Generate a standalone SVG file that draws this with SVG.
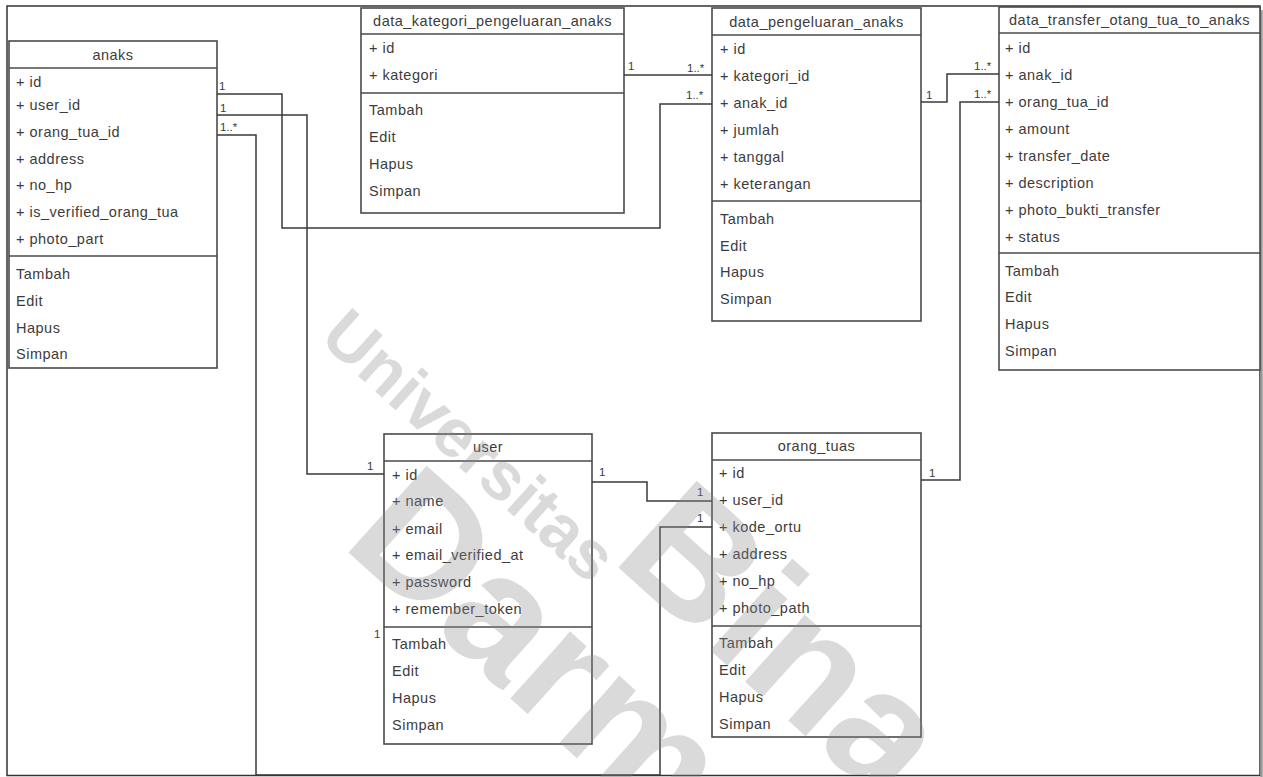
<svg xmlns="http://www.w3.org/2000/svg" width="1263" height="777" viewBox="0 0 1263 777">
<style>
.box{fill:#fff;stroke:#4a4a4a;stroke-width:1.6}
.sep{stroke:#4a4a4a;stroke-width:1.6}
.t{font-family:"Liberation Sans",Arial,sans-serif;font-size:14.5px;letter-spacing:0.5px;fill:#3c3c3c}
.h{text-anchor:middle}
.c{fill:none;stroke:#3a3a3a;stroke-width:1.5}
.lb{font-family:"Liberation Sans",Arial,sans-serif;font-size:11.5px;fill:#3c3c3c}
.wm{font-family:"Liberation Sans",Arial,sans-serif;font-weight:bold;fill:#8c8c8c;fill-opacity:0.32}
</style>
<rect x="0" y="0" width="1263" height="777" fill="#fff"/>
<rect x="7" y="6" width="1253" height="769.5" fill="none" stroke="#333" stroke-width="1.5"/>
<line x1="1261.5" y1="10" x2="1261.5" y2="777" stroke="#999" stroke-width="2.5"/>

<g id="anaks">
<rect class="box" x="9" y="41" width="208" height="327"/>
<line class="sep" x1="9" y1="68" x2="217" y2="68"/>
<line class="sep" x1="9" y1="256" x2="217" y2="256"/>
<text class="t h" x="113" y="60">anaks</text>
<text class="t" x="16" y="87">+ id</text>
<text class="t" x="16" y="110">+ user_id</text>
<text class="t" x="16" y="137">+ orang_tua_id</text>
<text class="t" x="16" y="164">+ address</text>
<text class="t" x="16" y="190">+ no_hp</text>
<text class="t" x="16" y="217">+ is_verified_orang_tua</text>
<text class="t" x="16" y="244">+ photo_part</text>
<text class="t" x="16" y="279">Tambah</text>
<text class="t" x="16" y="306">Edit</text>
<text class="t" x="16" y="333">Hapus</text>
<text class="t" x="16" y="359">Simpan</text>
</g>

<g id="data_kategori_pengeluaran_anaks">
<rect class="box" x="361" y="8" width="263" height="205"/>
<line class="sep" x1="361" y1="34" x2="624" y2="34"/>
<line class="sep" x1="361" y1="93" x2="624" y2="93"/>
<text class="t h" x="492.5" y="26">data_kategori_pengeluaran_anaks</text>
<text class="t" x="369" y="53">+ id</text>
<text class="t" x="369" y="80">+ kategori</text>
<text class="t" x="369" y="115">Tambah</text>
<text class="t" x="369" y="142">Edit</text>
<text class="t" x="369" y="169">Hapus</text>
<text class="t" x="369" y="196">Simpan</text>
</g>

<g id="data_pengeluaran_anaks">
<rect class="box" x="712" y="8" width="209" height="313"/>
<line class="sep" x1="712" y1="35" x2="921" y2="35"/>
<line class="sep" x1="712" y1="201" x2="921" y2="201"/>
<text class="t h" x="816.5" y="27">data_pengeluaran_anaks</text>
<text class="t" x="720" y="54">+ id</text>
<text class="t" x="720" y="81">+ kategori_id</text>
<text class="t" x="720" y="108">+ anak_id</text>
<text class="t" x="720" y="135">+ jumlah</text>
<text class="t" x="720" y="162">+ tanggal</text>
<text class="t" x="720" y="189">+ keterangan</text>
<text class="t" x="720" y="224">Tambah</text>
<text class="t" x="720" y="251">Edit</text>
<text class="t" x="720" y="277">Hapus</text>
<text class="t" x="720" y="304">Simpan</text>
</g>

<g id="data_transfer_otang_tua_to_anaks">
<rect class="box" x="999" y="7" width="261" height="363"/>
<line class="sep" x1="999" y1="33" x2="1260" y2="33"/>
<line class="sep" x1="999" y1="253" x2="1260" y2="253"/>
<text class="t h" x="1129.5" y="25">data_transfer_otang_tua_to_anaks</text>
<text class="t" x="1005" y="53">+ id</text>
<text class="t" x="1005" y="80">+ anak_id</text>
<text class="t" x="1005" y="107">+ orang_tua_id</text>
<text class="t" x="1005" y="134">+ amount</text>
<text class="t" x="1005" y="161">+ transfer_date</text>
<text class="t" x="1005" y="188">+ description</text>
<text class="t" x="1005" y="215">+ photo_bukti_transfer</text>
<text class="t" x="1005" y="242">+ status</text>
<text class="t" x="1005" y="276">Tambah</text>
<text class="t" x="1005" y="302">Edit</text>
<text class="t" x="1005" y="329">Hapus</text>
<text class="t" x="1005" y="356">Simpan</text>
</g>

<g id="user">
<rect class="box" x="384" y="434" width="208" height="310"/>
<line class="sep" x1="384" y1="461" x2="592" y2="461"/>
<line class="sep" x1="384" y1="627" x2="592" y2="627"/>
<text class="t h" x="488" y="452">user</text>
<text class="t" x="392" y="480">+ id</text>
<text class="t" x="392" y="506">+ name</text>
<text class="t" x="392" y="534">+ email</text>
<text class="t" x="392" y="560">+ email_verified_at</text>
<text class="t" x="392" y="587">+ password</text>
<text class="t" x="392" y="614">+ remember_token</text>
<text class="t" x="392" y="649">Tambah</text>
<text class="t" x="392" y="676">Edit</text>
<text class="t" x="392" y="703">Hapus</text>
<text class="t" x="392" y="730">Simpan</text>
</g>

<g id="orang_tuas">
<rect class="box" x="712" y="433" width="209" height="304"/>
<line class="sep" x1="712" y1="460" x2="921" y2="460"/>
<line class="sep" x1="712" y1="626" x2="921" y2="626"/>
<text class="t h" x="816.5" y="451">orang_tuas</text>
<text class="t" x="719" y="478">+ id</text>
<text class="t" x="719" y="505">+ user_id</text>
<text class="t" x="719" y="532">+ kode_ortu</text>
<text class="t" x="719" y="559">+ address</text>
<text class="t" x="719" y="586">+ no_hp</text>
<text class="t" x="719" y="613">+ photo_path</text>
<text class="t" x="719" y="648">Tambah</text>
<text class="t" x="719" y="675">Edit</text>
<text class="t" x="719" y="702">Hapus</text>
<text class="t" x="719" y="729">Simpan</text>
</g>

<g id="connectors">
<path class="c" d="M217,94 H282 V228 H660 V104 H712"/>
<path class="c" d="M624,75 H712"/>
<path class="c" d="M217,115 H307 V474 H384"/>
<path class="c" d="M217,135 H256 V775 H660 V527 H712"/>
<path class="c" d="M592,482 H647 V501 H712"/>
<path class="c" d="M921,102 H947 V74 H999"/>
<path class="c" d="M921,480 H960 V102 H999"/>
<text class="lb" x="219" y="90">1</text>
<text class="lb" x="686" y="99">1..*</text>
<text class="lb" x="628" y="70">1</text>
<text class="lb" x="687" y="72">1..*</text>
<text class="lb" x="220" y="112">1</text>
<text class="lb" x="367" y="470">1</text>
<text class="lb" x="220" y="131">1..*</text>
<text class="lb" x="697" y="522">1</text>
<text class="lb" x="374" y="638">1</text>
<text class="lb" x="599" y="476">1</text>
<text class="lb" x="697" y="496">1</text>
<text class="lb" x="926" y="99">1</text>
<text class="lb" x="974" y="70">1..*</text>
<text class="lb" x="929" y="477">1</text>
<text class="lb" x="974" y="98">1..*</text>
</g>

<g id="watermark">
<text class="wm" font-size="68" transform="translate(318,340) rotate(42)">Universitas</text>
<text class="wm" font-size="170" transform="translate(610,560) rotate(42)">Bina</text>
<text class="wm" font-size="170" transform="translate(340,545) rotate(42)">Darma</text>
</g>
</svg>
